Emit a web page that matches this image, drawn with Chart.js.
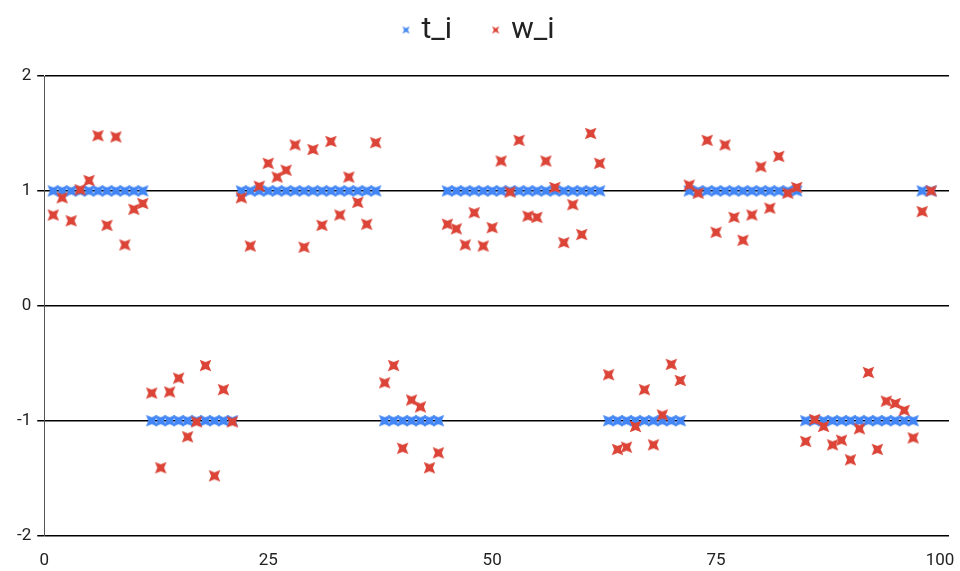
<!DOCTYPE html>
<html>
<head>
<meta charset="utf-8">
<script src="https://cdn.jsdelivr.net/npm/chart.js@4.4.1/dist/chart.umd.min.js"></script>
<style>
  html, body { margin: 0; padding: 0; background: #fff; }
  #wrap { width: 960px; height: 571px; }
</style>
</head>
<body>
<div id="wrap"><canvas id="chart"></canvas></div>
<script>
// t_i : target sign for samples 1..99
const tValues = [
    1, 1, 1, 1, 1, 1, 1, 1, 1, 1, 1,
    -1, -1, -1, -1, -1, -1, -1, -1, -1, -1,
    1, 1, 1, 1, 1, 1, 1, 1, 1, 1, 1, 1, 1, 1, 1, 1,
    -1, -1, -1, -1, -1, -1, -1,
    1, 1, 1, 1, 1, 1, 1, 1, 1, 1, 1, 1, 1, 1, 1, 1, 1, 1,
    -1, -1, -1, -1, -1, -1, -1, -1, -1,
    1, 1, 1, 1, 1, 1, 1, 1, 1, 1, 1, 1, 1,
    -1, -1, -1, -1, -1, -1, -1, -1, -1, -1, -1, -1, -1,
    1, 1
];

// w_i : noisy values
const wValues = [
    0.79, 0.94, 0.74, 1.01, 1.09, 1.48, 0.70, 1.47, 0.53, 0.84, 0.89,
    -0.76, -1.41, -0.75, -0.63, -1.14, -1.01, -0.52, -1.48, -0.73, -1.01,
    0.94, 0.52, 1.04, 1.24, 1.12, 1.18, 1.40, 0.51, 1.36, 0.70, 1.43, 0.79, 1.12, 0.90, 0.71, 1.42,
    -0.67, -0.52, -1.24, -0.82, -0.88, -1.41, -1.28,
    0.71, 0.67, 0.53, 0.81, 0.52, 0.68, 1.26, 0.99, 1.44, 0.78, 0.77, 1.26, 1.03, 0.55, 0.88, 0.62, 1.50, 1.24,
    -0.60, -1.25, -1.23, -1.05, -0.73, -1.21, -0.95, -0.51, -0.65,
    1.05, 0.98, 1.44, 0.64, 1.40, 0.77, 0.57, 0.79, 1.21, 0.85, 1.30, 0.98, 1.03,
    -1.18, -0.99, -1.05, -1.21, -1.17, -1.34, -1.07, -0.58, -1.25, -0.83, -0.85, -0.91, -1.15,
    0.82, 1.00
];

const xTicks = [0, 25, 50, 75, 100];
const yTicks = [-2, -1, 0, 1, 2];

const BLUE = '#4285f4';
const RED = '#db4437';

// four-pointed concave star, like the sheet's "x" marker
function makeStar(color, size, inner) {
    const c = document.createElement('canvas');
    c.width = size;
    c.height = size;
    const ctx = c.getContext('2d');
    const m = size / 2;
    const R = size / 2 - 0.3;
    ctx.fillStyle = color;
    ctx.beginPath();
    for (let k = 0; k < 8; k++) {
        const a = Math.PI / 4 + k * Math.PI / 4;
        const r = k % 2 === 0 ? R : inner;
        const px = m + r * Math.cos(a);
        const py = m + r * Math.sin(a);
        if (k === 0) ctx.moveTo(px, py); else ctx.lineTo(px, py);
    }
    ctx.closePath();
    ctx.fill();
    return c;
}

const blueStar = makeStar(BLUE, 17, 3.4);
const redStar = makeStar(RED, 17, 3.4);
const blueLegend = makeStar(BLUE, 11, 1.8);
const redLegend = makeStar(RED, 11, 1.8);

const tPoints = tValues.map((v, i) => ({ x: i + 1, y: v }));
const wPoints = wValues.map((v, i) => ({ x: i + 1, y: v }));

// legend padding is wide (item spacing), tweak its height so the plot starts lower
const legendGap = {
    id: 'legendGap',
    beforeInit(chart) {
        const fit = chart.legend.fit;
        chart.legend.fit = function() {
            fit.bind(chart.legend)();
            this.height += 21;
        };
    }
};

new Chart(document.getElementById('chart'), {
    type: 'scatter',
    data: {
        datasets: [{
            label: 't_i',
            data: tPoints,
            pointStyle: blueStar,
            backgroundColor: BLUE,
            borderColor: BLUE,
            order: 1
        }, {
            label: 'w_i',
            data: wPoints,
            pointStyle: redStar,
            backgroundColor: RED,
            borderColor: RED,
            order: 0
        }]
    },
    plugins: [legendGap],
    options: {
        responsive: true,
        maintainAspectRatio: false,
        animation: false,
        layout: { padding: { left: 11, right: 11, top: -28, bottom: 0 } },
        plugins: {
            tooltip: { enabled: false },
            legend: {
                position: 'top',
                labels: {
                    usePointStyle: true,
                    boxWidth: 1,
                    color: '#222',
                    font: { family: 'Roboto', size: 30 },
                    padding: 43,
                    generateLabels: function(chart) {
                        const icons = [blueLegend, redLegend];
                        return chart.data.datasets.map((ds, i) => ({
                            text: ds.label,
                            pointStyle: icons[i],
                            fillStyle: ds.backgroundColor,
                            strokeStyle: ds.borderColor,
                            lineWidth: 0,
                            fontColor: '#222',
                            hidden: false,
                            datasetIndex: i
                        }));
                    }
                }
            }
        },
        scales: {
            x: {
                type: 'linear',
                min: 0,
                max: 101,
                afterBuildTicks: function(axis) {
                    axis.ticks = xTicks.map(v => ({ value: v }));
                },
                grid: { display: false, drawTicks: true, tickLength: 15 },
                border: { display: false },
                ticks: {
                    color: '#222',
                    font: { family: 'Roboto', size: 17 },
                    padding: 0,
                    maxRotation: 0
                }
            },
            y: {
                min: -2,
                max: 2,
                afterBuildTicks: function(axis) {
                    axis.ticks = yTicks.map(v => ({ value: v }));
                },
                grid: {
                    color: '#000',
                    lineWidth: 1.5,
                    tickLength: 7,
                    drawTicks: true
                },
                border: { display: true, color: '#555', width: 1 },
                ticks: {
                    color: '#222',
                    font: { family: 'Roboto', size: 17 },
                    padding: 6
                }
            }
        }
    }
});
</script>
</body>
</html>
